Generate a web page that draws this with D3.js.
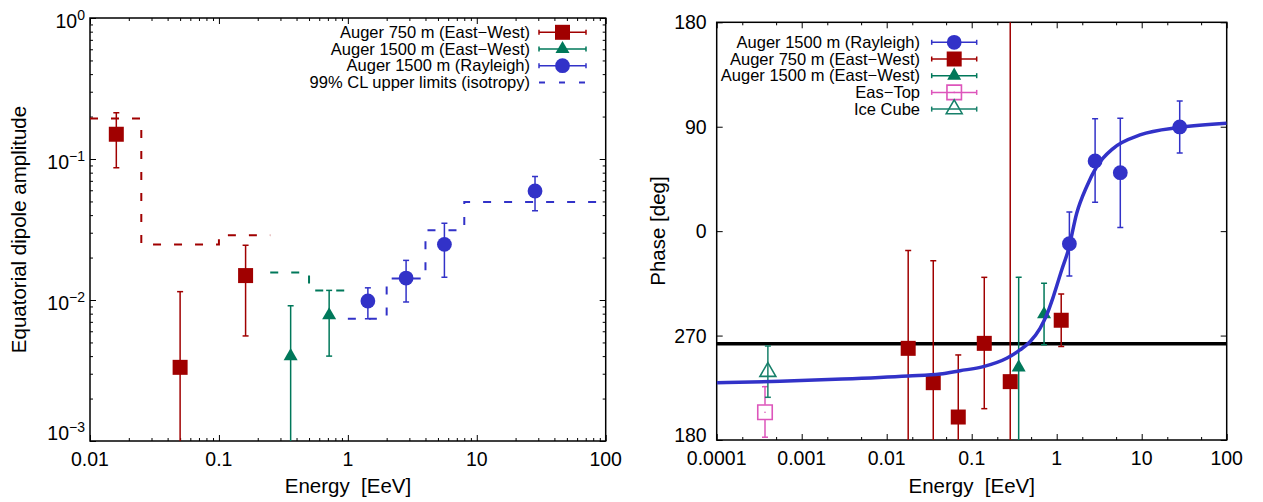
<!DOCTYPE html>
<html>
<head>
<meta charset="utf-8">
<script src="https://cdn.jsdelivr.net/npm/d3@7"></script>
<style>
  body { margin: 0; background: #fff; }
  text { font-family: "Liberation Sans", Arial, sans-serif; fill: #000; }
</style>
</head>
<body>
<svg id="chart" width="1263" height="502"></svg>
<script>
// Left panel data: equatorial dipole amplitude
const ampE750 = [0.016, 0.050, 0.161];
const ampV750 = [0.150, 0.00333, 0.0149];
const ampLo750 = [0.0867, 0.0004, 0.00556];
const ampHi750 = [0.213, 0.01146, 0.0245];

const ampE1500 = [0.36, 0.716];
const ampV1500 = [0.0040, 0.0078];
const ampLo1500 = [0.0004, 0.0040];
const ampHi1500 = [0.0091, 0.0117];

const ampERay = [1.43, 2.83, 5.61, 28.3];
const ampVRay = [0.00984, 0.0143, 0.0248, 0.0593];
const ampLoRay = [0.00736, 0.00968, 0.0145, 0.043];
const ampHiRay = [0.0122, 0.0191, 0.035, 0.075];

// 99% CL upper limits as steps (bin edges, levels)
const ulEdges750 = [0.01, 0.025, 0.1, 0.25];
const ulLevels750 = [0.194, 0.0248, 0.0288];
const ulEdges1500 = [0.25, 0.5, 1];
const ulLevels1500 = [0.0157, 0.0117];
const ulEdgesRay = [1, 2, 4, 8, 100];
const ulLevelsRay = [0.00737, 0.0142, 0.0312, 0.0496];

// Right panel data: phase in degrees (-180..180)
const phERay = [1.41, 2.83, 5.6, 28];
const phVRay = [-10.8, 60.5, 50.4, 89.8];
const phLoRay = [-38.7, 24.9, 3.1, 67.4];
const phHiRay = [16.5, 96.9, 97.4, 112.2];

const phE750 = [0.0179, 0.0353, 0.0695, 0.1406, 0.284, 1.13];
const phV750 = [-101, -130.6, -160.2, -96.7, -129.7, -76.8];
const phLo750 = [-200, -200, -200, -153, -200, -99.5];
const phHi750 = [-16.7, -25.5, -106.7, -39.8, 200, -54.2];

const phE1500 = [0.357, 0.71];
const phV1500 = [-117.4, -71.6];
const phLo1500 = [-200, -97.9];
const phHi1500 = [-39.8, -45];

const phEEas = [0.00037];
const phVEas = [-156.1];
const phLoEas = [-177.6];
const phHiEas = [-134];

const phEIce = [0.0004];
const phVIce = [-121.2];
const phLoIce = [-143.2];
const phHiIce = [-99];

const galCenterPhase = -97;

// Fitted phase curve
const fitE = [0.0001, 0.00056, 0.003, 0.018, 0.0424, 0.0728, 0.137, 0.258, 0.37, 0.485, 0.637, 0.762, 0.912, 1.145, 1.37, 1.72, 2.25, 2.95, 4.64, 9.55, 28.2, 100];
const fitV = [-130.6, -129.4, -127.5, -124.8, -123.1, -120.3, -116.8, -109.6, -102.4, -95.3, -83.7, -72.3, -56.5, -33.5, -16.2, 15.4, 38.3, 55.5, 71.4, 82.9, 89.5, 93];

// Tick labels
const xTicksL = [0.01, 0.1, 1, 10, 100];
const xLabelsL = ['0.01', '0.1', '1', '10', '100'];
const yTicksL = [1e-3, 1e-2, 1e-1, 1];
const yExpL = ['\u22123', '\u22122', '\u22121', '0'];
const xTicksR = [1e-4, 1e-3, 1e-2, 0.1, 1, 10, 100];
const xLabelsR = ['0.0001', '0.001', '0.01', '0.1', '1', '10', '100'];
const yTicksR = [-180, -90, 0, 90, 180];
const yLabelsR = ['180', '270', '0', '90', '180'];

// Colors
const red = '#a00000', green = '#00785a', blue = '#3232c8', pink = '#dd55bb', iceGreen = '#17806a';

const svg = d3.select('#chart');

// Define scales
const xL = d3.scaleLog().domain([0.01, 100]).range([90, 605.7]);
const yL = d3.scaleLog().domain([1e-3, 1]).range([441, 18]);
const xR = d3.scaleLog().domain([1e-4, 100]).range([716.7, 1226.7]);
const yR = d3.scaleLinear().domain([-180, 180]).range([440, 22.3]);

// Minor log ticks
const minorTicks = (lo, hi, mults) => {
  const out = [];
  for (let p = Math.round(Math.log10(lo)); p < Math.round(Math.log10(hi)); p++) {
    mults.forEach((m) => out.push(m * Math.pow(10, p)));
  }
  return out;
};

const fontTick = 19.5;

// Frame + ticks for one panel
const drawFrame = (x, y, xMajor, xMinor, yMajor, yMinor) => {
  const [x0, x1] = x.range();
  const [y0, y1] = y.range();
  const mk = (axis, tr) => {
    const g = svg.append('g').attr('transform', tr).call(axis);
    g.select('.domain').remove();
    g.selectAll('line').attr('stroke', '#000').attr('stroke-width', 1);
    return g;
  };
  mk(d3.axisBottom(x).tickValues(xMajor).tickSize(-6).tickFormat(''), `translate(0,${y0})`);
  mk(d3.axisTop(x).tickValues(xMajor).tickSize(-6).tickFormat(''), `translate(0,${y1})`);
  mk(d3.axisBottom(x).tickValues(xMinor).tickSize(-3).tickFormat(''), `translate(0,${y0})`);
  mk(d3.axisTop(x).tickValues(xMinor).tickSize(-3).tickFormat(''), `translate(0,${y1})`);
  mk(d3.axisLeft(y).tickValues(yMajor).tickSize(-6).tickFormat(''), `translate(${x0},0)`);
  mk(d3.axisRight(y).tickValues(yMajor).tickSize(-6).tickFormat(''), `translate(${x1},0)`);
  if (yMinor.length) {
    mk(d3.axisLeft(y).tickValues(yMinor).tickSize(-3).tickFormat(''), `translate(${x0},0)`);
    mk(d3.axisRight(y).tickValues(yMinor).tickSize(-3).tickFormat(''), `translate(${x1},0)`);
  }
  svg.append('rect')
    .attr('x', x0).attr('y', y1)
    .attr('width', x1 - x0).attr('height', y0 - y1)
    .attr('fill', 'none').attr('stroke', '#000').attr('stroke-width', 1.5);
};

// Clip paths
const defs = svg.append('defs');
const addClip = (id, x, y) => {
  const [x0, x1] = x.range();
  const [y0, y1] = y.range();
  defs.append('clipPath').attr('id', id).append('rect')
    .attr('x', x0).attr('y', y1).attr('width', x1 - x0).attr('height', y0 - y1);
};
addClip('clipL', xL, yL);
addClip('clipR', xR, yR);

// Markers
const symbolPath = (type, size) => d3.symbol().type(type).size(size)();
const marker = (g, kind, cx, cy, color) => {
  if (kind === 'square') {
    g.append('path').attr('d', symbolPath(d3.symbolSquare, 225))
      .attr('transform', `translate(${cx},${cy})`).attr('fill', color);
  } else if (kind === 'circle') {
    g.append('circle').attr('cx', cx).attr('cy', cy).attr('r', 7.4).attr('fill', color);
  } else if (kind === 'triangle') {
    g.append('path').attr('d', symbolPath(d3.symbolTriangle, 85))
      .attr('transform', `translate(${cx},${cy})`).attr('fill', color);
  } else if (kind === 'osquare') {
    g.append('path').attr('d', symbolPath(d3.symbolSquare, 210))
      .attr('transform', `translate(${cx},${cy})`)
      .attr('fill', 'none').attr('stroke', color).attr('stroke-width', 1.6);
    g.append('circle').attr('cx', cx).attr('cy', cy).attr('r', 0.8).attr('fill', color);
  } else if (kind === 'otriangle') {
    g.append('path').attr('d', symbolPath(d3.symbolTriangle, 110))
      .attr('transform', `translate(${cx},${cy})`)
      .attr('fill', 'none').attr('stroke', color).attr('stroke-width', 1.6);
  }
};

// Error bars with points
const errSeries = (clip, x, y, E, V, lo, hi, color, kind, gap) => {
  const g = svg.append('g').attr('clip-path', `url(#${clip})`);
  E.forEach((e, i) => {
    const cx = x(e), cy = y(V[i]), yl = y(lo[i]), yh = y(hi[i]);
    const seg = (a, b) => g.append('line').attr('x1', cx).attr('x2', cx)
      .attr('y1', a).attr('y2', b).attr('stroke', color).attr('stroke-width', 1.5);
    if (gap) {
      seg(yh, cy - gap);
      seg(cy + gap, yl);
    } else {
      seg(yh, yl);
    }
    [yl, yh].forEach((yy) => g.append('line')
      .attr('x1', cx - 3).attr('x2', cx + 3).attr('y1', yy).attr('y2', yy)
      .attr('stroke', color).attr('stroke-width', 1.5));
    marker(g, kind, cx, cy, color);
  });
};

// Step line of upper limits
const stepLine = (edges, levels, color) => {
  const pts = [];
  levels.forEach((lv, i) => {
    pts.push([xL(edges[i]), yL(lv)]);
    pts.push([xL(edges[i + 1]), yL(lv)]);
  });
  svg.append('path')
    .attr('clip-path', 'url(#clipL)')
    .attr('d', d3.line()(pts))
    .attr('fill', 'none').attr('stroke', color)
    .attr('stroke-width', 2).attr('stroke-dasharray', '8,13');
};

// Legend
const legend = (xText, xs0, xs1, y0, dy, entries) => {
  entries.forEach((en, i) => {
    const yy = y0 + i * dy;
    svg.append('text').attr('x', xText).attr('y', yy).attr('dy', '0.35em')
      .attr('text-anchor', 'end').attr('font-size', 16.5).text(en.label);
    if (en.kind === 'dash') {
      svg.append('line').attr('x1', xs0).attr('x2', xs1).attr('y1', yy).attr('y2', yy)
        .attr('stroke', en.color).attr('stroke-width', 2).attr('stroke-dasharray', '6,14');
    } else {
      svg.append('line').attr('x1', xs0).attr('x2', xs1).attr('y1', yy).attr('y2', yy)
        .attr('stroke', en.color).attr('stroke-width', 1.5);
      [xs0, xs1].forEach((xx) => svg.append('line')
        .attr('x1', xx).attr('x2', xx).attr('y1', yy - 2.5).attr('y2', yy + 2.5)
        .attr('stroke', en.color).attr('stroke-width', 1.5));
      marker(svg, en.kind, (xs0 + xs1) / 2, yy, en.color);
    }
  });
};

// ---------- Left panel ----------
drawFrame(xL, yL, xTicksL, minorTicks(0.01, 100, [2, 3, 4, 5, 6, 7, 8, 9]),
  yTicksL, minorTicks(1e-3, 1, [2, 3, 4, 5, 6, 7, 8, 9]));

stepLine(ulEdges750, ulLevels750, red);
stepLine(ulEdges1500, ulLevels1500, green);
stepLine(ulEdgesRay, ulLevelsRay, blue);

errSeries('clipL', xL, yL, ampE750, ampV750, ampLo750, ampHi750, red, 'square');
errSeries('clipL', xL, yL, ampE1500, ampV1500, ampLo1500, ampHi1500, green, 'triangle');
errSeries('clipL', xL, yL, ampERay, ampVRay, ampLoRay, ampHiRay, blue, 'circle');

xTicksL.forEach((t, i) => svg.append('text')
  .attr('x', xL(t)).attr('y', 466).attr('text-anchor', 'middle')
  .attr('font-size', fontTick).text(xLabelsL[i]));

// bottom label is lifted so it stays clear of the x labels
yTicksL.forEach((t, i) => {
  const base = i === 0 ? yL(t) - 1 : yL(t) + 9.5;
  const tx = svg.append('text').attr('x', 85).attr('y', base)
    .attr('text-anchor', 'end').attr('font-size', fontTick);
  tx.append('tspan').text('10');
  tx.append('tspan').attr('dy', -8).attr('font-size', 14).text(yExpL[i]);
});

svg.append('text').attr('x', 348).attr('y', 493).attr('text-anchor', 'middle')
  .attr('font-size', 20.5).text('Energy \u00a0[EeV]');
svg.append('text').attr('transform', 'translate(26,229.5) rotate(-90)')
  .attr('text-anchor', 'middle').attr('font-size', 20.5).text('Equatorial dipole amplitude');

legend(530, 539, 586, 32.3, 16.7, [
  { label: 'Auger 750 m (East\u2212West)', color: red, kind: 'square' },
  { label: 'Auger 1500 m (East\u2212West)', color: green, kind: 'triangle' },
  { label: 'Auger 1500 m (Rayleigh)', color: blue, kind: 'circle' },
  { label: '99% CL upper limits (isotropy)', color: blue, kind: 'dash' }
]);

// ---------- Right panel ----------
drawFrame(xR, yR, xTicksR, minorTicks(1e-4, 100, [2, 5]), yTicksR, []);

svg.append('line').attr('clip-path', 'url(#clipR)')
  .attr('x1', xR.range()[0]).attr('x2', xR.range()[1])
  .attr('y1', yR(galCenterPhase)).attr('y2', yR(galCenterPhase))
  .attr('stroke', '#000').attr('stroke-width', 3.5);

errSeries('clipR', xR, yR, phE750, phV750, phLo750, phHi750, red, 'square');
errSeries('clipR', xR, yR, phE1500, phV1500, phLo1500, phHi1500, green, 'triangle');
errSeries('clipR', xR, yR, phEEas, phVEas, phLoEas, phHiEas, pink, 'osquare', 7.5);
errSeries('clipR', xR, yR, phEIce, phVIce, phLoIce, phHiIce, iceGreen, 'otriangle');

svg.append('path').attr('clip-path', 'url(#clipR)')
  .attr('d', d3.line().x((d, i) => xR(fitE[i])).y((d, i) => yR(fitV[i])).curve(d3.curveMonotoneX)(fitE))
  .attr('fill', 'none').attr('stroke', blue).attr('stroke-width', 3.5);

errSeries('clipR', xR, yR, phERay, phVRay, phLoRay, phHiRay, blue, 'circle');

xTicksR.forEach((t, i) => svg.append('text')
  .attr('x', xR(t)).attr('y', 465).attr('text-anchor', 'middle')
  .attr('font-size', fontTick).text(xLabelsR[i]));

yTicksR.forEach((t, i) => svg.append('text')
  .attr('x', 706.7).attr('y', i === 0 ? yR(t) + 1.5 : yR(t) + 7)
  .attr('text-anchor', 'end').attr('font-size', fontTick).text(yLabelsR[i]));

svg.append('text').attr('x', 971.7).attr('y', 493).attr('text-anchor', 'middle')
  .attr('font-size', 20.5).text('Energy \u00a0[EeV]');
svg.append('text').attr('transform', 'translate(665,231) rotate(-90)')
  .attr('text-anchor', 'middle').attr('font-size', 20.5).text('Phase [deg]');

legend(920, 931.7, 976.7, 42.3, 16.7, [
  { label: 'Auger 1500 m (Rayleigh)', color: blue, kind: 'circle' },
  { label: 'Auger 750 m (East\u2212West)', color: red, kind: 'square' },
  { label: 'Auger 1500 m (East\u2212West)', color: green, kind: 'triangle' },
  { label: 'Eas\u2212Top', color: pink, kind: 'osquare' },
  { label: 'Ice Cube', color: iceGreen, kind: 'otriangle' }
]);
</script>
</body>
</html>
